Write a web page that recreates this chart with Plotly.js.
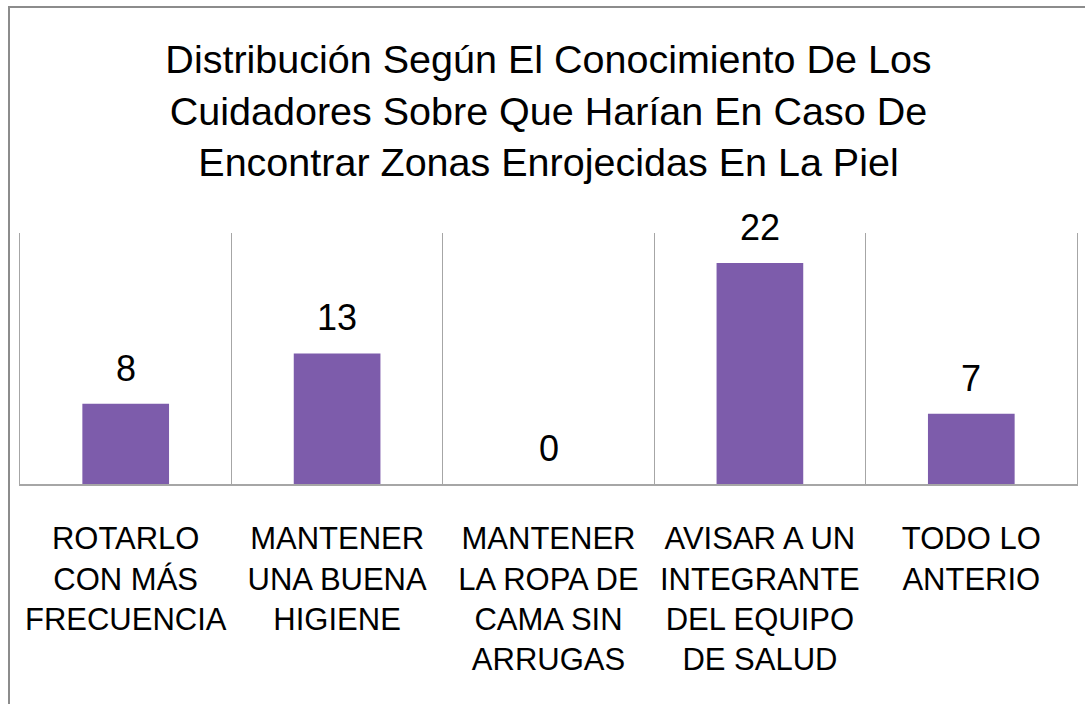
<!DOCTYPE html>
<html>
<head>
<meta charset="utf-8">
<script src="https://cdn.plot.ly/plotly-3.0.1.min.js"></script>
<style>
  html, body { margin: 0; padding: 0; background: #fff; overflow: hidden; }
  #wrap { position: relative; width: 1085px; height: 704px; }
  #frame { position: absolute; left: 8px; top: 6px; width: 1100px; height: 720px;
           border-left: 2px solid #8c8c8c; border-top: 2px solid #8c8c8c; box-sizing: border-box; pointer-events: none; z-index: 5; }
  #chart { position: absolute; left: 0; top: 0; width: 1085px; height: 704px; }
</style>
</head>
<body>
<div id="wrap">
  <div id="chart"></div>
  <div id="frame"></div>
</div>
<script>
const chartTitle = "Distribución Según El Conocimiento De Los<br>Cuidadores Sobre Que Harían En Caso De<br>Encontrar Zonas Enrojecidas En La Piel";
const categories = [
  "ROTARLO<br>CON MÁS<br>FRECUENCIA",
  "MANTENER<br>UNA BUENA<br>HIGIENE",
  "MANTENER<br>LA ROPA DE<br>CAMA SIN<br>ARRUGAS",
  "AVISAR A UN<br>INTEGRANTE<br>DEL EQUIPO<br>DE SALUD",
  "TODO LO<br>ANTERIO"
];
const values = [8, 13, 0, 22, 7];

const fontFam = "Liberation Sans, Arial, sans-serif";

const trace = {
  type: "bar",
  x: categories,
  y: values,
  width: 0.41,
  marker: { color: "#7d5cab", line: { color: "#5a3f85", width: 0 } },
  hoverinfo: "x+y"
};

const annotations = categories.map((c, i) => ({
  x: c, y: values[i], xref: "x", yref: "y",
  text: String(values[i]),
  showarrow: false, yanchor: "bottom", yshift: 13,
  font: { family: fontFam, size: 36, color: "#000" }
}));

const layout = {
  width: 1085, height: 704,
  margin: { l: 20, r: 8, t: 233, b: 220 },
  paper_bgcolor: "#ffffff", plot_bgcolor: "#ffffff",
  showlegend: false,
  title: {
    text: chartTitle,
    x: 0.5, xref: "paper", y: 0.896, yref: "container", yanchor: "top",
    font: { family: fontFam, size: 39.5, color: "#000" }
  },
  xaxis: {
    type: "category",
    tickson: "boundaries",
    showgrid: true, gridcolor: "#a6a6a6", gridwidth: 1,
    showline: true, linecolor: "#a6a6a6", linewidth: 2,
    ticks: "", ticklabelstandoff: 26,
    tickfont: { family: fontFam, size: 31, color: "#000" },
    fixedrange: true
  },
  yaxis: {
    range: [0, 25],
    showgrid: false, zeroline: false,
    showline: true, mirror: true, linecolor: "#a6a6a6", linewidth: 1,
    showticklabels: false, ticks: "",
    fixedrange: true
  },
  annotations: annotations
};

Plotly.newPlot("chart", [trace], layout, { displayModeBar: false, staticPlot: true });
</script>
</body>
</html>
